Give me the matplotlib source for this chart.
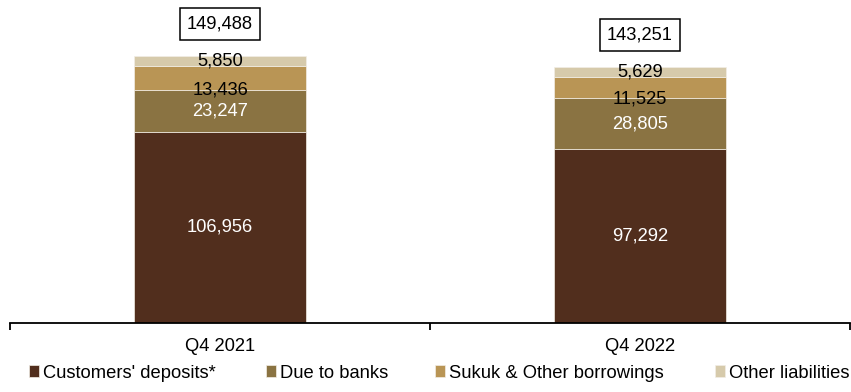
import numpy as np
import matplotlib.pyplot as plt

plt.rcParams['font.family'] = ['Liberation Sans', 'DejaVu Sans']

# balance sheet liabilities, SAR mn
periods = ["Q4 2021", "Q4 2022"]
series = ["Customers' deposits*", "Due to banks", "Sukuk & Other borrowings", "Other liabilities"]
deposits = [106956, 97292]
due_banks = [23247, 28805]
sukuk = [13436, 11525]
other = [5850, 5629]
totals = [149488, 143251]

colors = ["#512E1D", "#8A7342", "#B99555", "#D6CAAB"]
label_colors = ["white", "white", "black", "black"]
# vertical nudge of each value label, points
label_offsets = [0, 0, -8, 0]
# left edge of each legend entry, figure fraction
legend_x = [29 / 851, 266 / 851, 435 / 851, 715 / 851]
fs = 13.2

fig = plt.figure(figsize=(8.51, 3.92), dpi=100)
ax = fig.add_axes([10 / 851, 1 - 323 / 392, 840 / 851, 323 / 392])

x = np.arange(len(periods))
width = 0.41
bottom = np.zeros(len(periods))
handles = []
for vals, name, c, lc, off in zip([deposits, due_banks, sukuk, other], series,
                                  colors, label_colors, label_offsets):
    vals = np.array(vals)
    bars = ax.bar(x, vals, width, bottom=bottom, color=c, label=name,
                  edgecolor="#F2EEE6", linewidth=0.5)
    handles.append(bars)
    for xi, b, v in zip(x, bottom, vals):
        ax.annotate(f"{v:,}", (xi, b + v / 2), xytext=(0, off), textcoords="offset points",
                    ha="center", va="center", color=lc, fontsize=fs)
    bottom += vals

# boxed totals above each bar
for xi, t in zip(x, totals):
    ax.annotate(f"{t:,}", (xi, t), xytext=(0, 23), textcoords="offset points",
                ha="center", va="center", fontsize=fs,
                bbox=dict(boxstyle="square,pad=0.4", fc="white", ec="black", lw=1.1))

ax.set_xlim(-0.5, 1.5)
ax.set_ylim(0, 149488 * 323 / 267)
ax.set_yticks([])
for s in ["top", "right", "left"]:
    ax.spines[s].set_visible(False)
ax.spines["bottom"].set_linewidth(1.3)
ax.set_xticks(x)
ax.set_xticklabels(periods, fontsize=fs)
ax.tick_params(axis="x", which="major", length=0, pad=11)
ax.set_xticks([-0.5, 0.5, 1.5], minor=True)
ax.tick_params(axis="x", which="minor", length=5, width=1.3, direction="out")

for h, lx in zip(handles, legend_x):
    fig.legend(handles=[h], loc="center left", bbox_to_anchor=(lx, 1 - 373 / 392),
               frameon=False, fontsize=fs, handlelength=0.55, handleheight=0.55,
               handletextpad=0.2, borderaxespad=0, borderpad=0)

fig.savefig("out.png", dpi=100)
